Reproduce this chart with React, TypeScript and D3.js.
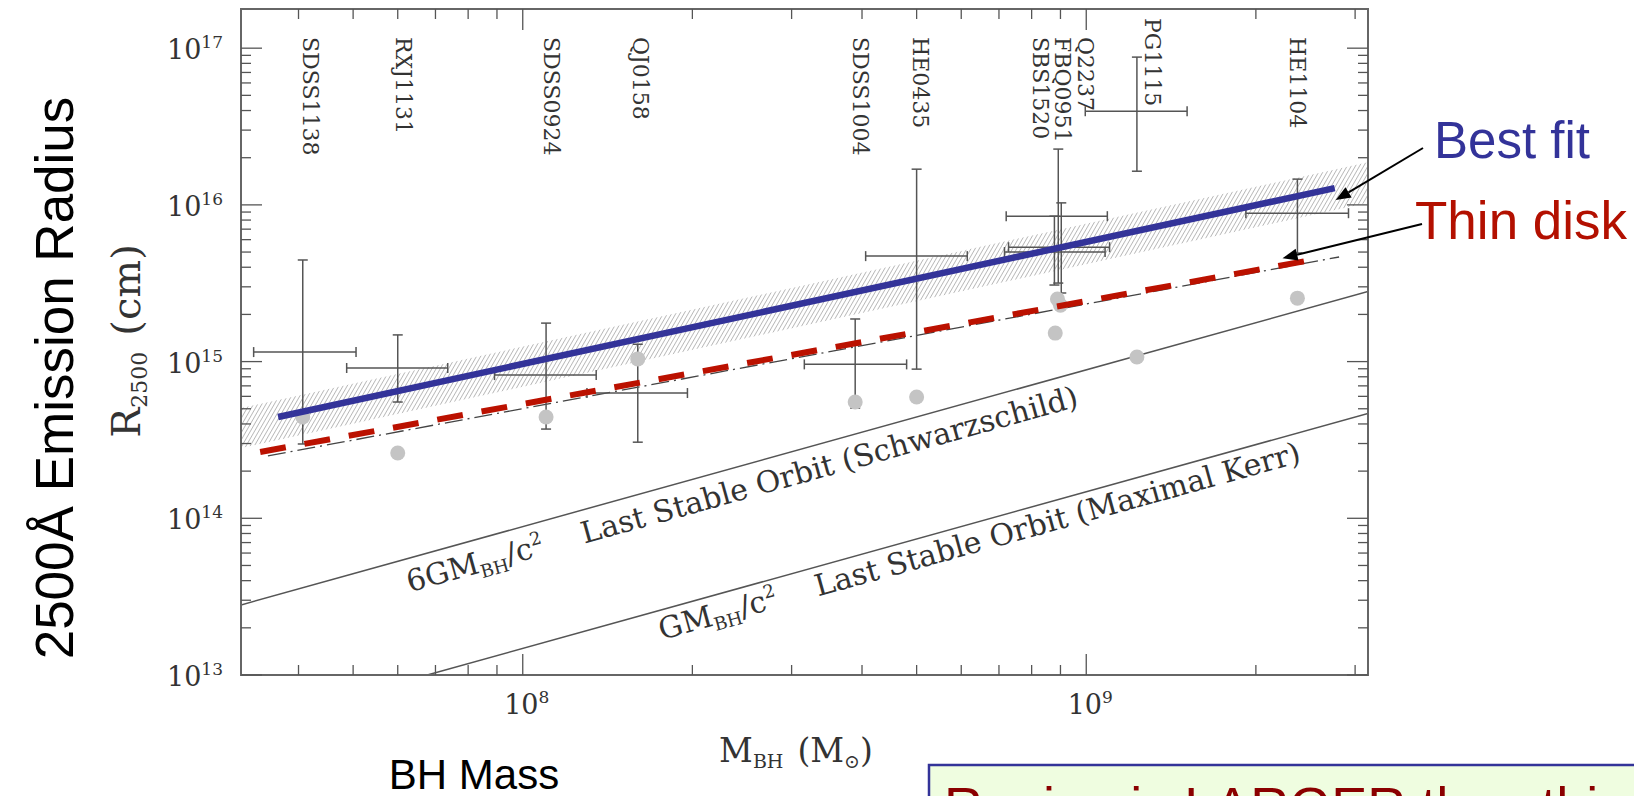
import * as d3 from 'd3';

// lensed quasars, names written along the top of the frame
const objectNames = ['SDSS1138', 'RXJ1131', 'SDSS0924', 'QJ0158', 'SDSS1004', 'HE0435', 'SBS1520', 'FBQ0951', 'Q2237', 'PG1115', 'HE1104'];
const labelMass = [4.07e7, 5.96e7, 1.09e8, 1.57e8, 3.86e8, 4.93e8, 8.05e8, 8.81e8, 9.68e8, 1.27e9, 2.30e9];

// measured sizes (crosses)
const mass = [4.07e7, 6.0e7, 1.10e8, 1.60e8, 3.89e8, 5.0e8, 8.78e8, 8.92e8, 9.03e8, 1.23e9, 2.37e9];
const massLo = [3.33e7, 4.87e7, 8.91e7, 1.30e8, 3.16e8, 4.06e8, 7.16e8, 7.21e8, 7.28e8, 9.96e8, 1.92e9];
const massHi = [5.06e7, 7.36e7, 1.35e8, 1.96e8, 4.80e8, 6.15e8, 1.08e9, 1.09e9, 1.10e9, 1.51e9, 2.92e9];
const radius = [1.15e15, 9.1e14, 8.2e14, 6.3e14, 9.6e14, 4.71e15, 5.0e15, 8.47e15, 5.37e15, 3.96e16, 8.85e15];
const radiusLo = [2.98e14, 5.52e14, 3.71e14, 3.06e14, 5.05e14, 8.95e14, 3.08e15, 3.17e15, 2.74e15, 1.64e16, 4.93e15];
const radiusHi = [4.45e15, 1.48e15, 1.76e15, 1.29e15, 1.87e15, 1.69e16, 8.47e15, 2.27e16, 1.03e16, 8.77e16, 1.46e16];

// grey dots
const dotMass = [4.07e7, 6.0e7, 1.10e8, 1.60e8, 3.89e8, 5.0e8, 8.89e8, 9.0e8, 8.81e8, 1.23e9, 2.37e9];
const dotRadius = [4.43e14, 2.61e14, 4.43e14, 1.04e15, 5.52e14, 5.94e14, 2.51e15, 2.29e15, 1.52e15, 1.07e15, 2.54e15];

// lines (end points)
const bestFitMass = [3.68e7, 2.76e9];
const bestFitRadius = [4.43e14, 1.28e16];
const bandMass = [3.162e7, 3.162e9];
const bandUpper = [5.05e14, 1.87e16];
const bandLower = [2.81e14, 1.03e16];
const thinDiskMass = [3.42e7, 2.56e9];
const thinDiskRadius = [2.65e14, 4.51e15];
const modelMass = [3.53e7, 2.81e9];
const modelRadius = [2.50e14, 4.65e15];
const schwarzMass = [3.162e7, 3.162e9];
const schwarzRadius = [2.80e13, 2.80e15];
const kerrMass = [6.77e7, 3.162e9];
const kerrRadius = [1e13, 4.67e14];

const W = 1634;
const H = 796;
const L = 241, R = 1368, T = 9, B = 675;
const serif = "'DejaVu Serif', serif";
const sans = "'Liberation Sans', Arial, sans-serif";

export default function App() {
  const x = d3.scaleLog().domain([10 ** 7.5, 10 ** 9.5]).range([L, R]);
  const y = d3.scaleLog().domain([1e13, 10 ** 17.25]).range([B, T]);

  const line = d3.line<[number, number]>().x(d => x(d[0])).y(d => y(d[1]));
  const pairs = (ms: number[], rs: number[]) => ms.map((m, i) => [m, rs[i]] as [number, number]);
  const band = d3.area<number>()
    .x(i => x(bandMass[i]))
    .y0(i => y(bandLower[i]))
    .y1(i => y(bandUpper[i]));

  const isMajor = (v: number) => Math.abs(Math.log10(v) - Math.round(Math.log10(v))) < 1e-6;
  const xTicks = x.ticks();
  const yTicks = y.ticks();

  // point on a straight (log-log) line in pixels
  const along = (ms: number[], rs: number[], m: number) => {
    const x1 = x(ms[0]), x2 = x(ms[1]), y1 = y(rs[0]), y2 = y(rs[1]);
    const px = x(m);
    return { px, py: y1 + (px - x1) * (y2 - y1) / (x2 - x1), ang: Math.atan2(y2 - y1, x2 - x1) * 180 / Math.PI };
  };
  const sch = along(schwarzMass, schwarzRadius, 6.08e7);
  const ker = along(kerrMass, kerrRadius, 1.71e8);

  const bfEnd = { px: x(bestFitMass[1]), py: y(bestFitRadius[1]) + 12 };
  const tdTip = along(thinDiskMass, thinDiskRadius, 2.23e9);

  const arrow = (x1: number, y1: number, x2: number, y2: number) => {
    const a = Math.atan2(y2 - y1, x2 - x1);
    const len = 15, w = 6;
    const bx = x2 - len * Math.cos(a), by = y2 - len * Math.sin(a);
    const p = [
      [x2, y2],
      [bx + w * Math.sin(a), by - w * Math.cos(a)],
      [bx - w * Math.sin(a), by + w * Math.cos(a)],
    ];
    return (
      <g>
        <line x1={x1} y1={y1} x2={bx} y2={by} stroke="#000" strokeWidth={2} />
        <polygon points={p.map(q => q.join(',')).join(' ')} fill="#000" />
      </g>
    );
  };

  return (
    <svg width={W} height={H} style={{ position: 'absolute', left: 0, top: 0, background: '#fff' }}>
      <defs>
        <clipPath id="plot">
          <rect x={L} y={T} width={R - L} height={B - T} />
        </clipPath>
        <pattern id="hatch" width={3.6} height={3.6} patternUnits="userSpaceOnUse" patternTransform="rotate(30)">
          <line x1={0} y1={0} x2={0} y2={3.6} stroke="#8a8a8a" strokeWidth={1.1} />
        </pattern>
      </defs>

      {/* big slide labels */}
      <text transform={`translate(73,378) rotate(-90)`} textAnchor="middle" fontFamily={sans} fontSize={53} fill="#000">
        2500Å Emission Radius
      </text>
      <text x={474} y={789} textAnchor="middle" fontFamily={sans} fontSize={42} fill="#000">BH Mass</text>

      <g clipPath="url(#plot)">
        <path d={band([0, 1]) || ''} fill="url(#hatch)" />
        <path d={line(pairs(schwarzMass, schwarzRadius)) || ''} fill="none" stroke="#555" strokeWidth={1.5} />
        <path d={line(pairs(kerrMass, kerrRadius)) || ''} fill="none" stroke="#555" strokeWidth={1.5} />
        <path d={line(pairs(modelMass, modelRadius)) || ''} fill="none" stroke="#444" strokeWidth={1.3} strokeDasharray="18,5,2,5" />

        {mass.map((m, i) => (
          <g key={objectNames[i]} stroke="#555" strokeWidth={1.5}>
            <line x1={x(massLo[i])} x2={x(massHi[i])} y1={y(radius[i])} y2={y(radius[i])} />
            <line x1={x(massLo[i])} x2={x(massLo[i])} y1={y(radius[i]) - 5} y2={y(radius[i]) + 5} />
            <line x1={x(massHi[i])} x2={x(massHi[i])} y1={y(radius[i]) - 5} y2={y(radius[i]) + 5} />
            <line x1={x(m)} x2={x(m)} y1={y(radiusHi[i])} y2={y(radiusLo[i])} />
            <line x1={x(m) - 5} x2={x(m) + 5} y1={y(radiusHi[i])} y2={y(radiusHi[i])} />
            <line x1={x(m) - 5} x2={x(m) + 5} y1={y(radiusLo[i])} y2={y(radiusLo[i])} />
          </g>
        ))}

        {dotMass.map((m, i) => (
          <circle key={i} cx={x(m)} cy={y(dotRadius[i])} r={7.5} fill="#c4c4c4" />
        ))}

        <path d={line(pairs(thinDiskMass, thinDiskRadius)) || ''} fill="none" stroke="#bb1100" strokeWidth={6} strokeDasharray="26,19" />
        <path d={line(pairs(bestFitMass, bestFitRadius)) || ''} fill="none" stroke="#333399" strokeWidth={6.5} />
      </g>

      {/* frame + ticks on all four sides */}
      <rect x={L} y={T} width={R - L} height={B - T} fill="none" stroke="#666" strokeWidth={2} />
      <g stroke="#555" strokeWidth={1.3}>
        {xTicks.map((v, i) => {
          const len = isMajor(v) ? 21 : 10;
          return (
            <g key={'x' + i}>
              <line x1={x(v)} x2={x(v)} y1={B} y2={B - len} />
              <line x1={x(v)} x2={x(v)} y1={T} y2={T + len} />
            </g>
          );
        })}
        {yTicks.map((v, i) => {
          const len = isMajor(v) ? 21 : 10;
          return (
            <g key={'y' + i}>
              <line x1={L} x2={L + len} y1={y(v)} y2={y(v)} />
              <line x1={R} x2={R - len} y1={y(v)} y2={y(v)} />
            </g>
          );
        })}
      </g>

      {/* tick labels */}
      <g fontFamily={serif} fill="#333">
        {yTicks.filter(isMajor).map(v => (
          <text key={'yl' + v} x={L - 18} y={y(v) + 11} textAnchor="end" fontSize={27}>
            10<tspan fontSize={17} dy={-11}>{Math.round(Math.log10(v))}</tspan>
          </text>
        ))}
        {xTicks.filter(isMajor).map(v => (
          <text key={'xl' + v} x={x(v) + 4} y={B + 39} textAnchor="middle" fontSize={27}>
            10<tspan fontSize={17} dy={-11}>{Math.round(Math.log10(v))}</tspan>
          </text>
        ))}
      </g>

      {/* axis titles */}
      <text transform="translate(140,341) rotate(-90)" textAnchor="middle" fontFamily={serif} fontSize={40} fill="#333">
        R<tspan fontSize={22} dy={7}>2500</tspan><tspan dy={-7} dx={16}>(cm)</tspan>
      </text>
      <text x={796} y={762} textAnchor="middle" fontFamily={serif} fontSize={33} fill="#333">
        M<tspan fontSize={19} dy={6}>BH</tspan><tspan dy={-6} dx={14}>(M</tspan><tspan fontSize={19} dy={6}>⊙</tspan><tspan dy={-6}>)</tspan>
      </text>

      {/* object names */}
      <g fontFamily={serif} fontSize={22} fill="#333">
        {objectNames.map((n, i) => (
          <text key={n} transform={`translate(${x(labelMass[i])},${n === 'PG1115' ? T + 9 : T + 28}) rotate(90)`}>
            {n}
          </text>
        ))}
      </g>

      {/* last stable orbit labels */}
      <text transform={`translate(${sch.px},${sch.py}) rotate(${sch.ang})`} y={33} fontFamily={serif} fontSize={30} fill="#333">
        6GM<tspan fontSize={18} dy={6}>BH</tspan><tspan dy={-6}>/c</tspan><tspan fontSize={18} dy={-12}>2</tspan>
        <tspan dy={12} dx={40}>Last Stable Orbit (Schwarzschild)</tspan>
      </text>
      <text transform={`translate(${ker.px},${ker.py}) rotate(${ker.ang})`} y={29} fontFamily={serif} fontSize={30} fill="#333">
        GM<tspan fontSize={18} dy={6}>BH</tspan><tspan dy={-6}>/c</tspan><tspan fontSize={18} dy={-12}>2</tspan>
        <tspan dy={12} dx={40}>Last Stable Orbit (Maximal Kerr)</tspan>
      </text>

      {/* legend annotations */}
      <text x={1434} y={158} fontFamily={sans} fontSize={51} fill="#333399">Best fit</text>
      <text x={1415} y={239} fontFamily={sans} fontSize={53} fill="#b31000">Thin disk</text>
      {arrow(1423, 148, bfEnd.px + 1, bfEnd.py)}
      {arrow(1422, 224, tdTip.px, tdTip.py - 7)}

      {/* conclusion box, cut by the bottom edge as in the slide */}
      <rect x={929} y={765} width={720} height={80} fill="#effde0" stroke="#333399" strokeWidth={2.5} />
      <text x={944} y={825} fontFamily={sans} fontSize={54} fill="#8b0000">Region is LARGER than thin disk</text>
    </svg>
  );
}
